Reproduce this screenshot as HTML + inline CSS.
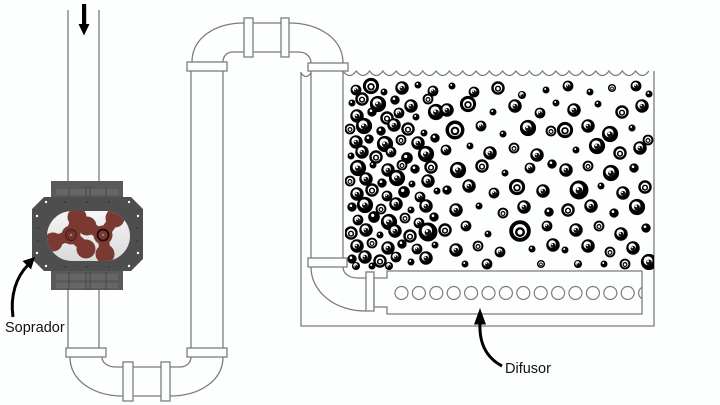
<!DOCTYPE html>
<html><head><meta charset="utf-8"><style>
html,body{margin:0;padding:0;background:#fdfefe;}
svg{display:block;}
text{font-family:"Liberation Sans",sans-serif;}
</style></head><body>
<svg width="720" height="405" viewBox="0 0 720 405" xmlns="http://www.w3.org/2000/svg" xmlns:xlink="http://www.w3.org/1999/xlink">
<defs>
<clipPath id="tank"><rect x="345" y="76" width="309" height="194"/></clipPath>
<clipPath id="dif"><rect x="387" y="271" width="255" height="43"/></clipPath>
<clipPath id="cham"><rect x="47" y="211" width="83" height="50" rx="25" ry="25"/></clipPath>
<linearGradient id="ch" x1="0" y1="0" x2="0" y2="1"><stop offset="0" stop-color="#f6f6f6"/><stop offset="1" stop-color="#dadada"/></linearGradient>
<g id="a" transform="scale(1.35)"><circle r="1" fill="#000"/><circle cx="-.12" cy="-.15" r=".55" fill="#fff"/><circle cy=".05" r=".36" fill="#111"/><circle cx="-.12" cy="-.1" r=".13" fill="#fff"/></g>
<g id="b" transform="scale(1.35)"><circle r=".82" fill="#fff" stroke="#000" stroke-width=".36"/><circle cy=".1" r=".35" fill="none" stroke="#000" stroke-width=".22"/></g>
<g id="c" transform="scale(1.3)"><circle r=".9" fill="#000"/><circle cx="-.2" cy="-.25" r=".25" fill="#fff"/></g>
</defs>
<rect width="720" height="405" fill="#fdfefe"/>

<!-- Pipes -->
<g fill="none" stroke="#7c7c7c" stroke-width="1.3">
<path d="M68 10V182M99 10V182M68 290V348M99 290V348"/>
<path d="M70 357C70 381 94 396 123 396"/>
<path d="M102 357C102 363 108 367 116 367H123"/>
<path d="M133 367H161M133 396H161"/>
<path d="M170 396C199 396 223 381 223 357"/>
<path d="M170 367H180C186 367 191 363 191 357"/>
<path d="M191 71V348M223 71V348"/>
<path d="M192 62C192 38 215 23 244 23"/>
<path d="M223 62C223 56 227 52 233 52H244"/>
<path d="M253 23H281M253 52H281"/>
<path d="M289 23C318 23 343 38 343 63"/>
<path d="M289 52H299C306 52 311 57 311 63"/>
<path d="M311 71V258M343 71V258"/>
<path d="M311 267C311 292 335 311 366 311"/>
<path d="M343 267C343 274 350 278 358 278H366"/>
<path d="M301 72V326H654V71"/>
<path d="M301 73q5 7 10 0"/>
<path d="M343 71q6.65 9 13.3 0q6.65 9 13.3 0q6.65 9 13.3 0q6.65 9 13.3 0q6.65 9 13.3 0q6.65 9 13.3 0q6.65 9 13.3 0q6.65 9 13.3 0q6.65 9 13.3 0q6.65 9 13.3 0q6.65 9 13.3 0q6.65 9 13.3 0q6.65 9 13.3 0q6.65 9 13.3 0q6.65 9 13.3 0q6.65 9 13.3 0q6.65 9 13.3 0q6.65 9 13.3 0q6.65 9 13.3 0q6.65 9 13.3 0q6.65 9 13.3 0q6.65 9 13.3 0q6.65 9 13.3 0" />
</g>

<!-- Bubbles -->
<g clip-path="url(#tank)">
<use href="#a" transform="matrix(4 0 0 4 356 90)"/><use href="#b" transform="matrix(6 0 0 6 371 86)"/><use href="#c" transform="matrix(3 0 0 3 384 92)"/><use href="#a" transform="matrix(5 0 0 5 402 88)"/><use href="#c" transform="matrix(3 0 0 3 418 85)"/><use href="#a" transform="matrix(4 0 0 4 433 91)"/>
<use href="#c" transform="matrix(3 0 0 3 352 103)"/><use href="#b" transform="matrix(5 0 0 5 362 99)"/><use href="#a" transform="matrix(6 0 0 6 378 104)"/><use href="#c" transform="matrix(4 0 0 4 395 100)"/><use href="#a" transform="matrix(5 0 0 5 411 106)"/><use href="#b" transform="matrix(4 0 0 4 428 99)"/>
<use href="#a" transform="matrix(5 0 0 5 357 116)"/><use href="#c" transform="matrix(4 0 0 4 372 112)"/><use href="#b" transform="matrix(5 0 0 5 387 118)"/><use href="#a" transform="matrix(4 0 0 4 399 113)"/><use href="#c" transform="matrix(3 0 0 3 416 117)"/><use href="#a" transform="matrix(6 0 0 6 436 112)"/>
<use href="#b" transform="matrix(4 0 0 4 350 129)"/><use href="#a" transform="matrix(6 0 0 6 364 126)"/><use href="#c" transform="matrix(4 0 0 4 381 131)"/><use href="#a" transform="matrix(5 0 0 5 394 125)"/><use href="#b" transform="matrix(5 0 0 5 408 129)"/><use href="#c" transform="matrix(3 0 0 3 424 133)"/>
<use href="#a" transform="matrix(5 0 0 5 356 142)"/><use href="#c" transform="matrix(4 0 0 4 369 139)"/><use href="#a" transform="matrix(6 0 0 6 385 144)"/><use href="#b" transform="matrix(4 0 0 4 401 140)"/><use href="#a" transform="matrix(5 0 0 5 418 143)"/><use href="#c" transform="matrix(4 0 0 4 435 138)"/>
<use href="#c" transform="matrix(3 0 0 3 351 156)"/><use href="#a" transform="matrix(5 0 0 5 362 152)"/><use href="#b" transform="matrix(5 0 0 5 376 157)"/><use href="#a" transform="matrix(4 0 0 4 391 152)"/><use href="#c" transform="matrix(5 0 0 5 407 158)"/><use href="#a" transform="matrix(6 0 0 6 426 154)"/>
<use href="#a" transform="matrix(6 0 0 6 358 168)"/><use href="#c" transform="matrix(3 0 0 3 373 165)"/><use href="#a" transform="matrix(5 0 0 5 388 170)"/><use href="#b" transform="matrix(4 0 0 4 402 165)"/><use href="#c" transform="matrix(4 0 0 4 415 169)"/><use href="#b" transform="matrix(5 0 0 5 431 167)"/>
<use href="#b" transform="matrix(4 0 0 4 350 181)"/><use href="#a" transform="matrix(5 0 0 5 366 179)"/><use href="#c" transform="matrix(4 0 0 4 382 183)"/><use href="#a" transform="matrix(6 0 0 6 397 178)"/><use href="#c" transform="matrix(3 0 0 3 412 184)"/><use href="#a" transform="matrix(5 0 0 5 428 181)"/>
<use href="#a" transform="matrix(5 0 0 5 357 194)"/><use href="#b" transform="matrix(5 0 0 5 372 190)"/><use href="#a" transform="matrix(4 0 0 4 387 196)"/><use href="#c" transform="matrix(5 0 0 5 404 192)"/><use href="#a" transform="matrix(4 0 0 4 420 197)"/><use href="#c" transform="matrix(3 0 0 3 437 191)"/>
<use href="#c" transform="matrix(4 0 0 4 352 207)"/><use href="#a" transform="matrix(6 0 0 6 365 205)"/><use href="#b" transform="matrix(4 0 0 4 381 209)"/><use href="#a" transform="matrix(5 0 0 5 396 204)"/><use href="#c" transform="matrix(3 0 0 3 411 210)"/><use href="#a" transform="matrix(5 0 0 5 426 206)"/>
<use href="#a" transform="matrix(4 0 0 4 358 220)"/><use href="#c" transform="matrix(5 0 0 5 374 217)"/><use href="#a" transform="matrix(6 0 0 6 389 222)"/><use href="#b" transform="matrix(4 0 0 4 405 218)"/><use href="#a" transform="matrix(4 0 0 4 419 223)"/><use href="#c" transform="matrix(4 0 0 4 434 217)"/>
<use href="#b" transform="matrix(5 0 0 5 351 233)"/><use href="#a" transform="matrix(5 0 0 5 366 230)"/><use href="#c" transform="matrix(3 0 0 3 380 235)"/><use href="#a" transform="matrix(5 0 0 5 395 231)"/><use href="#b" transform="matrix(5 0 0 5 410 236)"/><use href="#a" transform="matrix(7 0 0 7 428 232)"/>
<use href="#a" transform="matrix(5 0 0 5 357 246)"/><use href="#b" transform="matrix(4 0 0 4 372 243)"/><use href="#a" transform="matrix(5 0 0 5 388 248)"/><use href="#c" transform="matrix(4 0 0 4 402 244)"/><use href="#a" transform="matrix(4 0 0 4 417 249)"/><use href="#c" transform="matrix(3 0 0 3 435 245)"/>
<use href="#c" transform="matrix(4 0 0 4 352 259)"/><use href="#a" transform="matrix(5 0 0 5 365 257)"/><use href="#b" transform="matrix(5 0 0 5 380 261)"/><use href="#a" transform="matrix(4 0 0 4 396 257)"/><use href="#c" transform="matrix(3 0 0 3 411 262)"/><use href="#a" transform="matrix(5 0 0 5 426 258)"/>
<use href="#c" transform="matrix(3 0 0 3 372 266)"/><use href="#a" transform="matrix(3 0 0 3 389 266)"/><use href="#a" transform="matrix(3 0 0 3 356 266)"/>

<use href="#c" transform="matrix(3 0 0 3 452 86)"/><use href="#a" transform="matrix(4 0 0 4 474 92)"/><use href="#b" transform="matrix(5 0 0 5 498 88)"/><use href="#a" transform="matrix(3 0 0 3 522 95)"/><use href="#c" transform="matrix(3 0 0 3 546 90)"/>
<use href="#a" transform="matrix(5 0 0 5 447 110)"/><use href="#b" transform="matrix(6 0 0 6 468 104)"/><use href="#c" transform="matrix(3 0 0 3 493 112)"/><use href="#a" transform="matrix(5 0 0 5 515 106)"/><use href="#a" transform="matrix(4 0 0 4 540 113)"/><use href="#c" transform="matrix(3 0 0 3 556 103)"/>
<use href="#b" transform="matrix(7 0 0 7 455 130)"/><use href="#a" transform="matrix(4 0 0 4 481 126)"/><use href="#c" transform="matrix(3 0 0 3 503 134)"/><use href="#a" transform="matrix(6 0 0 6 528 128)"/><use href="#b" transform="matrix(4 0 0 4 551 131)"/>
<use href="#a" transform="matrix(4 0 0 4 446 150)"/><use href="#c" transform="matrix(3 0 0 3 470 146)"/><use href="#a" transform="matrix(5 0 0 5 490 153)"/><use href="#b" transform="matrix(4 0 0 4 514 148)"/><use href="#a" transform="matrix(5 0 0 5 537 155)"/>
<use href="#a" transform="matrix(6 0 0 6 458 170)"/><use href="#b" transform="matrix(5 0 0 5 482 166)"/><use href="#c" transform="matrix(3 0 0 3 505 173)"/><use href="#a" transform="matrix(4 0 0 4 530 168)"/><use href="#c" transform="matrix(4 0 0 4 552 164)"/>
<use href="#c" transform="matrix(4 0 0 4 447 190)"/><use href="#a" transform="matrix(5 0 0 5 469 186)"/><use href="#a" transform="matrix(4 0 0 4 494 193)"/><use href="#b" transform="matrix(6 0 0 6 517 187)"/><use href="#a" transform="matrix(5 0 0 5 543 191)"/>
<use href="#a" transform="matrix(5 0 0 5 456 210)"/><use href="#c" transform="matrix(3 0 0 3 479 206)"/><use href="#b" transform="matrix(4 0 0 4 503 213)"/><use href="#a" transform="matrix(5 0 0 5 524 207)"/><use href="#c" transform="matrix(4 0 0 4 549 212)"/>
<use href="#b" transform="matrix(5 0 0 5 445 230)"/><use href="#a" transform="matrix(4 0 0 4 466 226)"/><use href="#c" transform="matrix(3 0 0 3 488 234)"/><use href="#b" transform="matrix(8 0 0 8 520 231)"/><use href="#a" transform="matrix(4 0 0 4 547 226)"/>
<use href="#a" transform="matrix(5 0 0 5 456 250)"/><use href="#b" transform="matrix(4 0 0 4 478 246)"/><use href="#a" transform="matrix(4 0 0 4 500 252)"/><use href="#c" transform="matrix(3 0 0 3 532 249)"/><use href="#a" transform="matrix(5 0 0 5 553 245)"/>
<use href="#c" transform="matrix(3 0 0 3 465 264)"/><use href="#a" transform="matrix(4 0 0 4 487 264)"/><use href="#b" transform="matrix(3 0 0 3 541 264)"/>

<use href="#a" transform="matrix(4 0 0 4 568 86)"/><use href="#c" transform="matrix(3 0 0 3 590 92)"/><use href="#b" transform="matrix(3 0 0 3 612 88)"/><use href="#a" transform="matrix(4 0 0 4 636 86)"/><use href="#c" transform="matrix(3 0 0 3 649 94)"/>
<use href="#a" transform="matrix(5 0 0 5 574 110)"/><use href="#c" transform="matrix(3 0 0 3 598 104)"/><use href="#b" transform="matrix(5 0 0 5 622 112)"/><use href="#a" transform="matrix(5 0 0 5 642 106)"/>
<use href="#b" transform="matrix(6 0 0 6 565 130)"/><use href="#a" transform="matrix(5 0 0 5 588 126)"/><use href="#a" transform="matrix(6 0 0 6 610 134)"/><use href="#c" transform="matrix(3 0 0 3 632 128)"/><use href="#b" transform="matrix(4 0 0 4 648 140)"/>
<use href="#c" transform="matrix(3 0 0 3 576 150)"/><use href="#a" transform="matrix(6 0 0 6 597 146)"/><use href="#b" transform="matrix(5 0 0 5 620 153)"/><use href="#a" transform="matrix(5 0 0 5 640 148)"/>
<use href="#a" transform="matrix(5 0 0 5 566 170)"/><use href="#b" transform="matrix(4 0 0 4 588 166)"/><use href="#a" transform="matrix(6 0 0 6 611 173)"/><use href="#c" transform="matrix(4 0 0 4 634 168)"/>
<use href="#a" transform="matrix(7 0 0 7 579 190)"/><use href="#c" transform="matrix(3 0 0 3 601 186)"/><use href="#a" transform="matrix(5 0 0 5 623 193)"/><use href="#b" transform="matrix(5 0 0 5 645 187)"/>
<use href="#b" transform="matrix(5 0 0 5 568 210)"/><use href="#a" transform="matrix(5 0 0 5 591 206)"/><use href="#c" transform="matrix(4 0 0 4 614 213)"/><use href="#a" transform="matrix(6 0 0 6 637 207)"/>
<use href="#a" transform="matrix(5 0 0 5 576 230)"/><use href="#b" transform="matrix(4 0 0 4 599 226)"/><use href="#a" transform="matrix(5 0 0 5 621 234)"/><use href="#c" transform="matrix(4 0 0 4 646 228)"/>
<use href="#c" transform="matrix(3 0 0 3 565 250)"/><use href="#a" transform="matrix(5 0 0 5 588 246)"/><use href="#b" transform="matrix(4 0 0 4 610 252)"/><use href="#a" transform="matrix(5 0 0 5 633 248)"/><use href="#a" transform="matrix(6 0 0 6 649 262)"/>
<use href="#a" transform="matrix(3 0 0 3 578 264)"/><use href="#c" transform="matrix(3 0 0 3 604 264)"/><use href="#b" transform="matrix(4 0 0 4 625 264)"/>
</g>

<!-- Flanges -->
<g fill="#fdfefe" stroke="#7c7c7c" stroke-width="1.3">
<rect x="66" y="348" width="40" height="9"/>
<rect x="123" y="362" width="10" height="39"/>
<rect x="161" y="362" width="9" height="39"/>
<rect x="187" y="348" width="40" height="9"/>
<rect x="187" y="62" width="40" height="9"/>
<rect x="244" y="18" width="9" height="39"/>
<rect x="281" y="18" width="8" height="39"/>
<rect x="308" y="63" width="40" height="8"/>
<rect x="308" y="258" width="39" height="9"/>
<rect x="366" y="272" width="8" height="39"/>
<path d="M374 278H387V271H642V314H387V307H374Z"/>
</g>

<!-- Diffuser holes -->
<g fill="none" stroke="#7c7c7c" stroke-width="1.2" clip-path="url(#dif)">
<circle cx="401.5" cy="293" r="6.5"/><circle cx="418.9" cy="293" r="6.5"/><circle cx="436.3" cy="293" r="6.5"/><circle cx="453.7" cy="293" r="6.5"/><circle cx="471.1" cy="293" r="6.5"/><circle cx="488.5" cy="293" r="6.5"/><circle cx="505.9" cy="293" r="6.5"/><circle cx="523.3" cy="293" r="6.5"/><circle cx="540.7" cy="293" r="6.5"/><circle cx="558.1" cy="293" r="6.5"/><circle cx="575.5" cy="293" r="6.5"/><circle cx="592.9" cy="293" r="6.5"/><circle cx="610.3" cy="293" r="6.5"/><circle cx="627.7" cy="293" r="6.5"/><circle cx="645.1" cy="293" r="6.5"/>
</g>

<!-- Blower -->
<g>
<rect x="51" y="181" width="72" height="16" fill="#5a5a5a"/>
<rect x="51" y="271" width="72" height="19" fill="#5a5a5a"/>
<g fill="#666"><rect x="56" y="189" width="62" height="6"/><rect x="56" y="274" width="62" height="6"/><rect x="56" y="283" width="62" height="5"/></g>
<g stroke="#454545" stroke-width="1"><path d="M69 188V197M86 186V197M90 186V197M106 188V197M69 272V290M86 272V290M90 272V290M106 272V290"/></g>
<polygon points="44,197 131,197 143,209 143,259 131,271 44,271 32,259 32,209" fill="#4e4e4e"/>
<rect x="47" y="211" width="83" height="50" rx="25" ry="25" fill="url(#ch)"/>
<g fill="#fff">
<circle cx="46" cy="202" r="1.2"/><circle cx="129" cy="202" r="1.2"/><circle cx="46" cy="266" r="1.2"/><circle cx="129" cy="266" r="1.2"/>
<circle cx="37" cy="216" r="1.2"/><circle cx="37" cy="253" r="1.2"/><circle cx="138" cy="216" r="1.2"/><circle cx="138" cy="253" r="1.2"/>
</g>
<g fill="#3a3a3a">
<circle cx="65" cy="202" r="1"/><circle cx="87" cy="202" r="1"/><circle cx="109" cy="202" r="1"/>
<circle cx="65" cy="267" r="1"/><circle cx="87" cy="267" r="1"/><circle cx="109" cy="267" r="1"/>
<circle cx="38" cy="228" r="1"/><circle cx="38" cy="241" r="1"/><circle cx="137" cy="228" r="1"/><circle cx="137" cy="241" r="1"/>
</g>
<!-- rotors -->
<g clip-path="url(#cham)">
<g fill="#7a3a31" stroke="#7a3a31" stroke-linecap="round">
<g stroke-width="11">
<path d="M71 235L76 219M71 235L55 241M71 235L85 247"/>
<path d="M103 235L89 227M103 235L114 220M103 235L105 252"/>
</g>
<g stroke="none">
<circle cx="71" cy="235" r="9.5"/>
<circle cx="77" cy="217" r="9.5"/><circle cx="53" cy="242" r="9.5"/><circle cx="86" cy="249" r="9.5"/>
<circle cx="103" cy="235" r="9.5"/>
<circle cx="87" cy="226" r="9.5"/><circle cx="115" cy="218" r="9.5"/><circle cx="105" cy="254" r="9.5"/>
</g>
</g>
</g>
<g fill="none">
<circle cx="71" cy="235" r="5.5" stroke="#4a1f19" stroke-width="1.2"/>
<circle cx="71" cy="235" r="3.5" stroke="#5a2a22" stroke-width="0.8"/>
<circle cx="103" cy="235" r="5.5" stroke="#1e0c09" stroke-width="1.8"/>
</g>
<circle cx="71" cy="235" r="1" fill="#c98a80"/><circle cx="103" cy="235" r="1" fill="#c98a80"/>
</g>

<!-- top arrow -->
<rect x="82" y="4" width="4.2" height="22" fill="#000"/>
<polygon points="78.5,24 89.5,24 84,35.5" fill="#000"/>

<!-- Soprador arrow -->
<path d="M13 317C10 296 16 277 28 265" fill="none" stroke="#000" stroke-width="3"/>
<polygon points="35,257 31,269.5 22.5,261" fill="#000"/>
<text x="5" y="332" font-size="14.5" fill="#111">Soprador</text>

<!-- Difusor arrow -->
<path d="M502 366C487 358 479 344 480 323" fill="none" stroke="#000" stroke-width="3"/>
<polygon points="480,308 474,324.5 486,324.5" fill="#000"/>
<text x="505" y="373" font-size="14.5" fill="#111">Difusor</text>
</svg>
</body></html>
